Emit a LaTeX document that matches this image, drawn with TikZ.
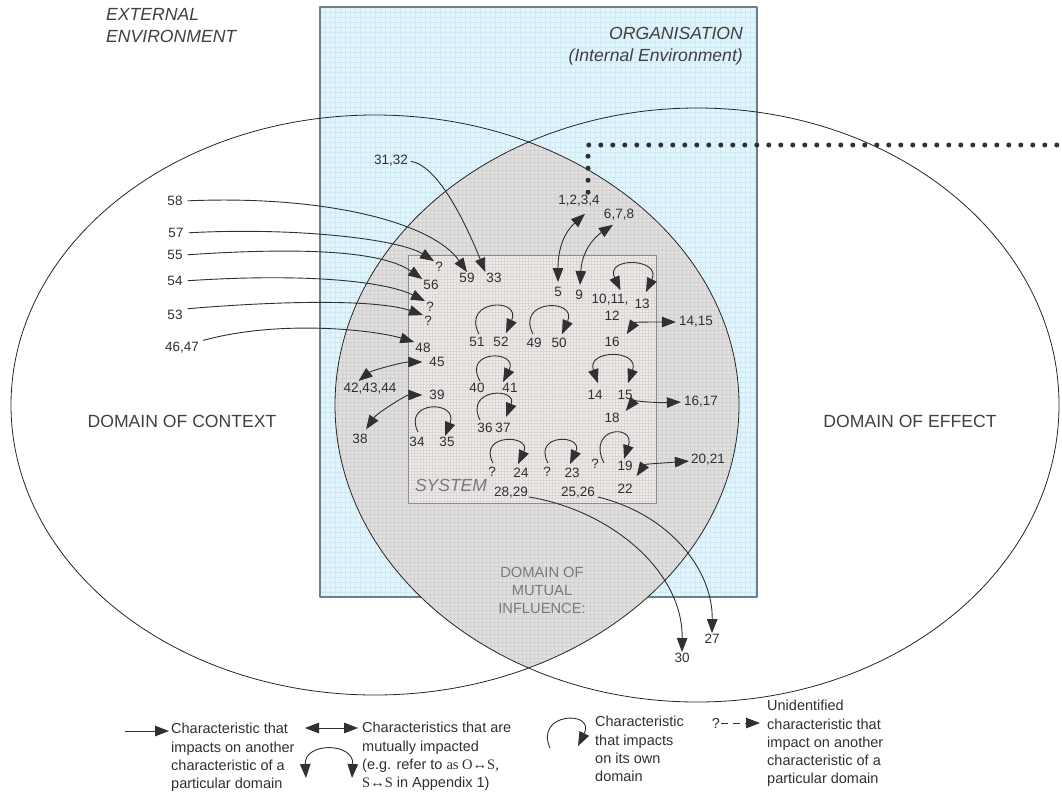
\documentclass[tikz,border=0pt]{standalone}
\usepackage{fontspec}
\setmainfont{Liberation Sans}
\newfontfamily\serifx{Liberation Serif}
\usetikzlibrary{arrows.meta}
\definecolor{ink}{HTML}{303030}
\definecolor{headtext}{HTML}{404040}
\definecolor{orgfill}{HTML}{E2F4FC}
\definecolor{orggrid}{HTML}{CFEAF7}
\definecolor{orgedge}{HTML}{6E7F8C}
\definecolor{lensfill}{HTML}{E0E0E0}
\definecolor{lensgrid}{HTML}{D3D0D0}
\definecolor{sysfill}{HTML}{EEEBE9}
\definecolor{sysgrid}{HTML}{DCD7D6}
\definecolor{sysedge}{HTML}{8C8C8C}
\definecolor{greytext}{HTML}{7A7A7A}
\begin{document}
\begin{tikzpicture}[x=1pt,y=-1pt,line join=round,
  arr/.style={draw=ink,line width=0.9pt,-{Triangle[length=14pt,width=10.5pt]}},
  darr/.style={draw=ink,line width=0.9pt,{Triangle[length=14pt,width=10.5pt]}-{Triangle[length=14pt,width=10.5pt]}},
  num/.style={font=\fontsize{13.5}{16}\selectfont,text=ink,inner sep=1pt},
  legtext/.style={font=\fontsize{14.5}{18.3}\selectfont,text=ink,inner sep=0pt,align=left,anchor=north west},
  ell/.style={draw=black!85,line width=0.8pt}]
\useasboundingbox (0,0) rectangle (1062,793);

% organisation rectangle
\fill[orgfill] (320,7) rectangle (757,597);
\begin{scope}
  \clip (320,7) rectangle (757,597);
  \foreach \g in {320,325,...,757} \draw[orggrid,line width=0.3pt] (\g,7) -- (\g,597);
  \foreach \g in {7,12,...,597} \draw[orggrid,line width=0.3pt] (320,\g) -- (757,\g);
\end{scope}
\draw[orgedge,line width=1.2pt] (320,7) rectangle (757,597);

% lens
\begin{scope}
  \clip (375,405) ellipse [x radius=364, y radius=290];
  \clip (697,405) ellipse [x radius=362, y radius=297];
  \fill[lensfill] (330,130) rectangle (750,680);
  \foreach \g in {330,334,...,750} \draw[lensgrid,line width=0.2pt] (\g,130) -- (\g,680);
  \foreach \g in {130,134,...,680} \draw[lensgrid,line width=0.2pt] (330,\g) -- (750,\g);
\end{scope}
\draw[ell] (375,405) ellipse [x radius=364, y radius=290];
\draw[ell] (697,405) ellipse [x radius=362, y radius=297];

% system
\fill[sysfill] (408,255) rectangle (656,503);
\begin{scope}
  \clip (408,255) rectangle (656,503);
  \foreach \g in {408,411,...,656} \draw[sysgrid,line width=0.2pt] (\g,255) -- (\g,503);
  \foreach \g in {255,258,...,503} \draw[sysgrid,line width=0.2pt] (408,\g) -- (656,\g);
\end{scope}
\draw[sysedge,line width=1pt] (408,255) rectangle (656,503);

% headings
\node[font=\fontsize{17.6}{22}\selectfont\itshape,text=headtext,inner sep=0pt,align=left,anchor=north west] (ext) at (106,8.5) {EXTERNAL\\ENVIRONMENT};
\node[font=\fontsize{17.6}{22}\selectfont\itshape,text=headtext,inner sep=0pt,align=right,anchor=north east] (org) at (743,27) {ORGANISATION\\(Internal Environment)};
\node[font=\fontsize{17.6}{22}\selectfont,text=headtext,inner sep=0pt] (ctx) at (182,421) {DOMAIN OF CONTEXT};
\node[font=\fontsize{17.6}{22}\selectfont,text=headtext,inner sep=0pt] (eff) at (910,421) {DOMAIN OF EFFECT};
\node[font=\fontsize{17.5}{20}\selectfont\itshape,text=greytext,inner sep=0pt] (sys) at (451,485) {SYSTEM};
\node[font=\fontsize{14.7}{18}\selectfont,text=greytext,inner sep=0pt,align=center] (mut) at (542,590) {DOMAIN OF\\MUTUAL\\INFLUENCE:};

% labels
\node[num] (n58) at (175,201) {58};
\node[num] (n57) at (176,233) {57};
\node[num] (n55) at (175,255) {55};
\node[num] (n54) at (175,281) {54};
\node[num] (n53) at (175,315) {53};
\node[num] (n4647) at (182,348) {46,47};
\node[num] (n3132) at (391,161) {31,32};
\node[num] (n59) at (467,278) {59};
\node[num] (n33) at (494,278) {33};
\node[num] (q57) at (439,267) {?};
\node[num] (n56) at (431,285) {56};
\node[num] (q54) at (430,307) {?};
\node[num] (q53) at (428,321) {?};
\node[num] (n48) at (423,348) {48};
\node[num] (n45) at (437,362) {45};
\node[num] (n424344) at (370,389) {42,43,44};
\node[num] (n39) at (437,395) {39};
\node[num] (n38) at (360,439) {38};
\node[num] (n1234) at (579,201) {1,2,3,4};
\node[num] (n5) at (558,292) {5};
\node[num] (n678) at (619,215) {6,7,8};
\node[num] (n9) at (579,295) {9};
\node[num] (n1011) at (610,300) {10,11,};
\node[num] (n12) at (612,316) {12};
\node[num] (n13) at (642,304) {13};
\node[num] (n16) at (612,342) {16};
\node[num] (n1415) at (696,322) {14,15};
\node[num] (n51) at (477,342) {51};
\node[num] (n52) at (501,342) {52};
\node[num] (n49) at (534,343) {49};
\node[num] (n50) at (559,343) {50};
\node[num] (n40) at (477,388) {40};
\node[num] (n41) at (510,388) {41};
\node[num] (n36) at (485,428) {36};
\node[num] (n37) at (503,428) {37};
\node[num] (n34) at (417,442) {34};
\node[num] (n35) at (447,442) {35};
\node[num] (n14) at (595,395) {14};
\node[num] (n15) at (625,395) {15};
\node[num] (n18) at (612,418) {18};
\node[num] (n1617) at (701,402) {16,17};
\node[num] (q24) at (492,472) {?};
\node[num] (n24) at (521,473) {24};
\node[num] (q23) at (547,472) {?};
\node[num] (n23) at (572,473) {23};
\node[num] (q19) at (595,464) {?};
\node[num] (n19) at (625,466) {19};
\node[num] (n22) at (625,489) {22};
\node[num] (n2021) at (708,460) {20,21};
\node[num] (n2829) at (511,493) {28,29};
\node[num] (n2526) at (578,493) {25,26};
\node[num] (n30) at (682,658) {30};
\node[num] (n27) at (712,639) {27};

% dotted pointer
\coordinate (dotend) at (1068,145);
\draw[ink,line width=5pt,line cap=round,dash pattern=on 0pt off 12pt] ([shift={(9,-2)}]n1234.north) -- (588,145) -- (dotend);

% arrows from the context
\draw[arr,shorten <=4pt] (n58.east) .. controls +(140,-6) and +(-35,-50) .. (n59.north);
\draw[arr,shorten <=4pt] (n57.east) .. controls +(110,-6) and +(-35,-22) .. (q57.north west);
\draw[arr,shorten <=4pt] (n55.east) .. controls +(120,-8) and +(-40,-28) .. (n56.north west);
\draw[arr,shorten <=4pt] (n54.east) .. controls +(120,-8) and +(-40,-20) .. (q54.north west);
\draw[arr,shorten <=4pt] (n53.north east) .. controls +(120,-10) and +(-40,-14) .. (q53.north west);
\draw[arr,shorten <=3pt] (n4647.north east) .. controls +(80,-22) and +(-40,-12) .. (n48.north west);
\draw[arr,shorten <=2pt] (n3132.east) .. controls +(30,5) and +(-18,-45) .. (n33.north west);

% mutual arrows
\draw[darr,shorten <=2pt,shorten >=6pt] ([shift={(-13,0)}]n424344.north) .. controls +(15,-12) and +(-25,0) .. (n45.west);
\draw[darr,shorten <=2pt,shorten >=6pt] ([shift={(5,-2)}]n38.north) .. controls +(12,-18) and +(-22,0) .. (n39.west);
\draw[darr] ([shift={(0,-4)}]n5.north) .. controls +(0,-35) and +(-20,18) .. ([shift={(6,6)}]n1234.south);
\draw[darr] ([shift={(1,-4)}]n9.north) .. controls +(2,-35) and +(-18,12) .. ([shift={(-6,3)}]n678.south);
\draw[darr] ([shift={(6,-2)}]n16.north east) .. controls +(8,-12) and +(-25,0) .. ([shift={(-2,0)}]n1415.west);
\draw[darr] ([shift={(5,-1)}]n18.north east) .. controls +(8,-10) and +(-25,1) .. ([shift={(-2,0)}]n1617.west);
\draw[darr] ([shift={(3,-7)}]n22.north east) .. controls +(8,-12) and +(-25,2) .. ([shift={(-1,1)}]n2021.west);
\draw[darr] ([shift={(-9,-3)}]n1011.north east) .. controls +(-16,-34) and +(16,-34) .. ([shift={(4,-6)}]n13.north);
\draw[darr] ([shift={(3,-6)}]n14.north) .. controls +(-12,-34) and +(12,-34) .. ([shift={(3,-6)}]n15.north);

% self loops
\draw[arr] ([shift={(2,-2)}]n51.north) .. controls +(-18,-35) and +(16,-36) .. ([shift={(5,-3)}]n52.north);
\draw[arr] ([shift={(-1,-3)}]n49.north) .. controls +(-18,-35) and +(16,-36) .. ([shift={(3,-3)}]n50.north);
\draw[arr] ([shift={(3,-1)}]n40.north) .. controls +(-18,-32) and +(16,-32) .. ([shift={(-7,0)}]n41.north);
\draw[arr] ([shift={(-5,-2)}]n36.north) .. controls +(-16,-32) and +(12,-30) .. ([shift={(3,-5)}]n37.north);
\draw[arr] ([shift={(1,-4)}]n34.north) .. controls +(-16,-32) and +(14,-36) .. ([shift={(-2,0)}]n35.north);
\draw[arr] ([shift={(1,-3)}]q24.north) .. controls +(-16,-30) and +(14,-30) .. ([shift={(-3,-3)}]n24.north);
\draw[arr] ([shift={(1,-3)}]q23.north) .. controls +(-16,-30) and +(14,-30) .. ([shift={(-2,-3)}]n23.north);
\draw[arr] ([shift={(4,-1)}]q19.east) .. controls +(-18,-36) and +(12,-36) .. ([shift={(-1,-1)}]n19.north);

% arrows to the effect
\draw[arr] ([shift={(0,4)}]n2829.east) .. controls +(80,13) and +(1,-82) .. (n30.north);
\draw[arr] ([shift={(2,4)}]n2526.east) .. controls +(73,18) and +(1,-62) .. (n27.north);

% legend
\coordinate (L1a) at (125,731);
\node[legtext] (L1) at (171,723) {Characteristic that\\impacts on another\\characteristic of a\\particular domain};
\draw[arr,shorten >=2pt] (L1a) -- (L1a -| L1.west);

\coordinate (L2a) at (305,728);
\node[legtext] (L2) at (362,722) {Characteristics that are\\mutually impacted\\(e.g. refer to {\serifx as O↔S,}\\{\serifx S↔S} in Appendix 1)};
\draw[darr,shorten >=4pt] (L2a) -- (L2a -| L2.west);
\coordinate (L2b) at (306,778);
\coordinate (L2c) at (352,778);
\draw[darr] (L2b) .. controls +(-2,-36) and +(2,-36) .. (L2c);

\coordinate (L3a) at (550,748);
\coordinate (L3b) at (578,746);
\draw[arr] (L3a) .. controls +(-16,-36) and +(18,-36) .. (L3b);
\node[legtext] (L3) at (595,716) {Characteristic\\that impacts\\on its own\\domain};

\node[font=\fontsize{14.5}{18}\selectfont,text=ink,inner sep=1pt] (L4q) at (716,723) {?};
\node[legtext] (L4) at (767,700) {Unidentified\\characteristic that\\impact on another\\characteristic of a\\particular domain};
\draw[arr,dash pattern=on 7pt off 5pt,shorten >=7pt] (L4q.east) -- (L4q.east -| L4.west);
\end{tikzpicture}
\end{document}
